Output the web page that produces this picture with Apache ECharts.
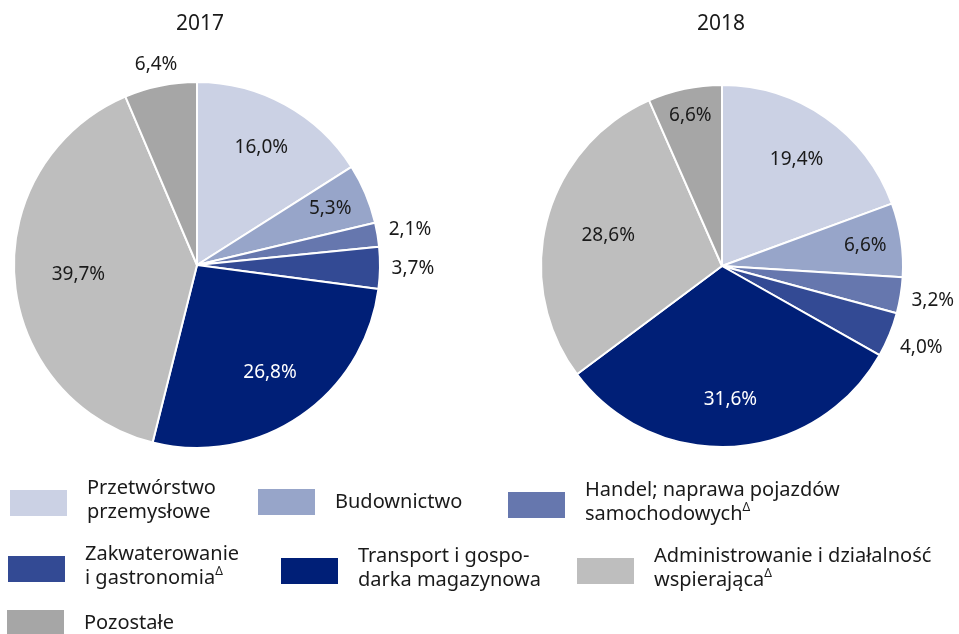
<!DOCTYPE html>
<html>
<head>
<meta charset="utf-8">
<script src="https://cdn.jsdelivr.net/npm/echarts@6/dist/echarts.min.js"></script>
<style>
  html, body { margin: 0; padding: 0; background: #fff; }
  #chart { width: 959px; height: 634px; }
</style>
</head>
<body>
<div id="chart"></div>
<script>
// dane
const categories = [
  'Przetwórstwo przemysłowe',
  'Budownictwo',
  'Handel; naprawa pojazdów samochodowych',
  'Zakwaterowanie i gastronomia',
  'Transport i gospodarka magazynowa',
  'Administrowanie i działalność wspierająca',
  'Pozostałe'
]
const years = ['2017', '2018']
const values2017 = [16.0, 5.3, 2.1, 3.7, 26.8, 39.7, 6.4]
const values2018 = [19.4, 6.6, 3.2, 4.0, 31.6, 28.6, 6.6]

// wygląd
const colors = ['#cbd1e4', '#97a5c9', '#6677ae', '#334a94', '#001f77', '#bebebe', '#a6a6a6']
const legendText = [
  'Przetwórstwo\nprzemysłowe',
  'Budownictwo',
  'Handel; naprawa pojazdów\nsamochodowych{sup|Δ}',
  'Zakwaterowanie\ni gastronomia{sup|Δ}',
  'Transport i gospo-\ndarka magazynowa',
  'Administrowanie i działalność\nwspierająca{sup|Δ}',
  'Pozostałe'
]
const legendPos = [[10, 476], [258, 489], [508, 478], [8, 542], [281, 544], [577, 544], [7, 610]]
const pies = [
  {center: [197, 265], r: 183, labelR: [0.73, 0.79, 1.18, 1.18, 0.71, 0.65, 1.12]},
  {center: [722, 266], r: 181, labelR: [0.72, 0.80, 1.18, 1.19, 0.74, 0.65, 0.85]}
]
const FONT = 'Noto Sans'

const chart = echarts.init(document.getElementById('chart'))

function fmt(v) {
  return v.toFixed(1).replace('.', ',') + '%'
}

function makeSeries(values, idx) {
  const p = pies[idx]
  const total = values.reduce((a, b) => a + b, 0)
  // środki kątowe wycinków (start na górze, zgodnie z ruchem wskazówek)
  const mids = []
  let acc = 0
  values.forEach(v => {
    mids.push((acc + v / 2) / total * Math.PI * 2)
    acc += v
  })
  return {
    type: 'pie',
    name: years[idx],
    center: p.center,
    radius: p.r,
    startAngle: 90,
    clockwise: true,
    animation: false,
    silent: true,
    itemStyle: {borderColor: '#fff', borderWidth: 2},
    label: {
      show: true,
      position: 'inside',
      fontFamily: FONT,
      fontSize: 19,
      color: '#1a1a1a',
      formatter: params => fmt(params.value)
    },
    labelLine: {show: false},
    labelLayout: params => {
      const a = mids[params.dataIndex]
      const d = p.r * p.labelR[params.dataIndex]
      return {
        x: p.center[0] + d * Math.sin(a),
        y: p.center[1] - d * Math.cos(a),
        align: 'center',
        verticalAlign: 'middle'
      }
    },
    data: categories.map((name, i) => ({
      name: name,
      value: values[i],
      itemStyle: {color: colors[i]},
      label: i === 4 ? {color: '#fff'} : {}
    }))
  }
}

const option = {
  backgroundColor: '#fff',
  title: [
    {text: years[0], left: 195, top: 9, textAlign: 'center',
      textStyle: {fontFamily: FONT, fontSize: 21, fontWeight: 'normal', color: '#1a1a1a'}},
    {text: years[1], left: 716, top: 9, textAlign: 'center',
      textStyle: {fontFamily: FONT, fontSize: 21, fontWeight: 'normal', color: '#1a1a1a'}}
  ],
  legend: categories.map((name, i) => ({
    data: [name],
    left: legendPos[i][0],
    top: legendPos[i][1],
    padding: 0,
    icon: 'rect',
    itemWidth: 57,
    itemHeight: 26,
    selectedMode: false,
    itemStyle: {borderWidth: 0},
    formatter: () => legendText[i],
    textStyle: {
      fontFamily: FONT,
      fontSize: 20,
      lineHeight: 24,
      color: '#1a1a1a',
      padding: [0, 0, legendText[i].indexOf('\n') >= 0 ? 6 : 0, 15],
      rich: {
        sup: {fontFamily: FONT, fontSize: 12, lineHeight: 24, verticalAlign: 'top', color: '#1a1a1a'}
      }
    }
  })),
  series: [makeSeries(values2017, 0), makeSeries(values2018, 1)]
}

chart.setOption(option)
</script>
</body>
</html>
